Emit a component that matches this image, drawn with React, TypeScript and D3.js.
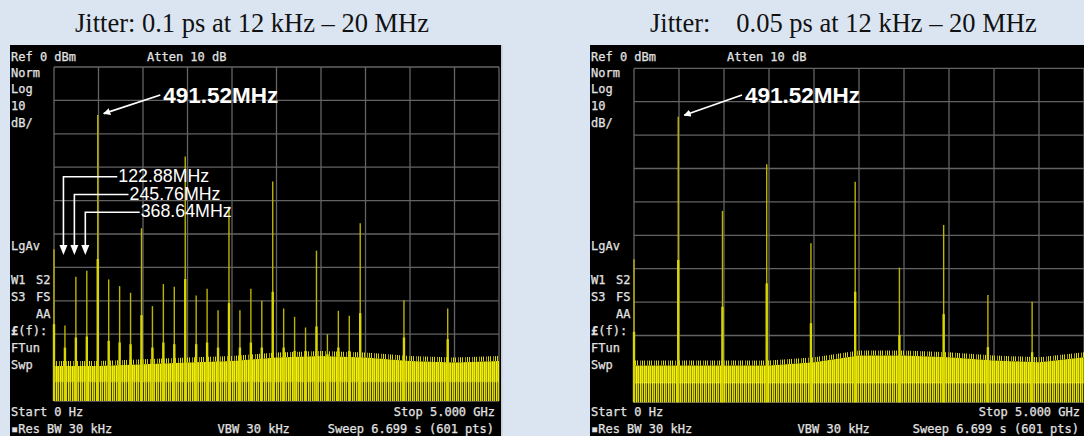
import React from 'react';
import * as d3 from 'd3';

const W = 1084;
const H = 436;

const leftSpurMHz = [0, 122.88, 245.76, 368.64, 491.52, 614.4, 737.28, 860.16, 983.04, 1105.92, 1228.8, 1351.68, 1474.56, 1597.44, 1720.32, 1843.2, 1966.08, 2088.96, 2211.84, 2334.72, 2457.6, 2580.48, 2703.36, 2826.24, 2949.12, 3072, 3194.88, 3317.76, 3440.64, 3932.16, 4423.68];
const leftSpurPeak = [-54.6, -77.4, -62.8, -61.0, -14.4, -63.6, -65.6, -67.6, -48.3, -71.6, -65.0, -65.8, -26.8, -68.4, -66.4, -72.8, -41.8, -72.8, -66.4, -70.0, -34.3, -72.3, -74.8, -78.0, -55.0, -80.0, -73.0, -74.5, -46.8, -69.8, -72.3];
const leftSpurBase = [-77, -84, -81, -80.7, -57.5, -82, -82.5, -83, -74.3, -84, -82.5, -83, -63.5, -83, -82.5, -84, -70.7, -84, -82.5, -84, -67.3, -84, -85, -85, -77.7, -86, -84, -85, -73.7, -81, -81.5];

const rightSpurMHz = [0, 491.52, 983.04, 1474.56, 1966.08, 2457.6, 2949.12, 3440.64, 3932.16, 4423.68];
const rightSpurPeak = [-57.2, -14.5, -42.7, -28.7, -52.4, -34.0, -59.7, -46.9, -67.9, -69.9];
const rightSpurBase = [-78.9, -57.4, -71.4, -64.4, -76.3, -66.9, -79.9, -73.6, -83.5, -85];

// noise floor top (dBm) every 500 MHz
const noiseMHz = [0, 500, 1000, 1500, 2000, 2500, 3000, 3500, 4000, 4500, 5000];
const leftNoise = [-89.5, -89.5, -89, -88.5, -88, -87, -86.5, -87, -88, -88.5, -88];
const rightNoise = [-89, -89, -89, -89, -88, -86, -86, -86.5, -87.5, -88, -86.5];

const harmonicLabels = ['122.88MHz', '245.76MHz', '368.64MHz'];

const mono = "'DejaVu Sans Mono', monospace";
const sans = "'Liberation Sans', Arial, sans-serif";
const serif = "'Liberation Serif', 'Times New Roman', serif";
const txt = '#e2e2e2';

type PanelProps = {
  id: string;
  ox: number;
  ow: number;
  gridW: number;
  top: number;
  spurMHz: number[];
  spurPeak: number[];
  spurBase: number[];
  noise: number[];
  markerX: number;
  showHarmonics?: boolean;
};

const Panel = ({ id, ox, ow, gridW, top, spurMHz, spurPeak, spurBase, noise, markerX, showHarmonics }: PanelProps) => {
  const gl = ox + 44;
  const gr = gl + gridW;
  const x = d3.scaleLinear().domain([0, 5000]).range([gl, gr]);
  const y = d3.scaleLinear().domain([-100, 0]).range([top + 334, top]);

  const pts = noiseMHz.map((f, i) => ({ f, v: noise[i] }));
  const upper = d3.area<{ f: number; v: number }>().x(d => x(d.f)).y0(y(-94.2)).y1(d => y(d.v));
  const lower = d3.area<{ f: number; v: number }>().x(d => x(d.f)).y0(y(-100)).y1(y(-94.2));
  const fuzz = d3.area<{ f: number; v: number }>().x(d => x(d.f)).y0(d => y(d.v)).y1(d => y(d.v) - 5);

  const peak = spurMHz.indexOf(491.52);
  const px = x(491.52);
  const py = y(spurPeak[peak]);

  return (
    <g>
      <defs>
        <pattern id={`${id}-a`} patternUnits="userSpaceOnUse" width={4} height={10}>
          <rect x={0} width={1} height={10} fill="#f6f400" />
          <rect x={1} width={1} height={10} fill="#c8c400" />
          <rect x={2} width={1} height={10} fill="#eeeb10" />
          <rect x={3} width={1} height={10} fill="#a29e00" />
        </pattern>
        <pattern id={`${id}-b`} patternUnits="userSpaceOnUse" width={4} height={10}>
          <rect x={0} width={1} height={10} fill="#ebe700" />
          <rect x={1} width={1} height={10} fill="#807c00" />
          <rect x={2} width={1} height={10} fill="#dcd800" />
          <rect x={3} width={1} height={10} fill="#3c3a00" />
        </pattern>
        <pattern id={`${id}-c`} patternUnits="userSpaceOnUse" width={7} height={10}>
          <rect x={0} width={1} height={10} fill="#d8d400" />
          <rect x={3} width={1} height={10} fill="#a4a000" />
          <rect x={5} width={1} height={10} fill="#e2de00" />
        </pattern>
        <marker id={`${id}-arrow`} viewBox="0 0 10 10" refX={9} refY={5} markerWidth={4} markerHeight={4} orient="auto">
          <path d="M0,0 L10,5 L0,10 z" fill="#fff" />
        </marker>
      </defs>
      <rect x={ox} y={45} width={ow} height={H - 45} fill="#000" />

      {/* graticule */}
      {d3.range(0, 5001, 500).map(f => (
        <line key={`v${f}`} x1={x(f)} x2={x(f)} y1={y(0)} y2={y(-100)} stroke="#636363" strokeWidth={1.3} />
      ))}
      {d3.range(-100, 1, 10).map(v => (
        <line key={`h${v}`} x1={gl} x2={gr} y1={y(v)} y2={y(v)} stroke="#636363" strokeWidth={1.3} />
      ))}

      {/* trace: noise floor and spurs */}
      <path d={fuzz(pts) ?? ''} fill={`url(#${id}-c)`} />
      <path d={upper(pts) ?? ''} fill={`url(#${id}-a)`} />
      <path d={lower(pts) ?? ''} fill={`url(#${id}-b)`} />
      <line x1={gl} x2={gr} y1={y(-94.2)} y2={y(-94.2)} stroke="#f8f640" strokeOpacity={0.45} strokeWidth={1.2} />
      {spurMHz.map((f, i) => (
        <g key={f}>
          <line x1={x(f)} x2={x(f)} y1={y(-100)} y2={y(spurPeak[i])} stroke="#bbb400" strokeWidth={1.4} />
          <line x1={x(f)} x2={x(f)} y1={y(-100)} y2={y(spurBase[i])} stroke="#dad600" strokeWidth={2.4} />
        </g>
      ))}

      {/* instrument annotations */}
      <g fontFamily={mono} fontSize={12} fill={txt} stroke={txt} strokeWidth={0.25}>
        <text x={ox + 1} y={61}>Ref 0 dBm</text>
        <text x={ox + 137} y={61}>Atten 10 dB</text>
        <text x={ox + 1} y={76.5}>Norm</text>
        <text x={ox + 1} y={93}>Log</text>
        <text x={ox + 1} y={110}>10</text>
        <text x={ox + 1} y={127}>dB/</text>
        <text x={ox + 1} y={249.5}>LgAv</text>
        <text x={ox + 1} y={284}>W1</text>
        <text x={ox + 26} y={284}>S2</text>
        <text x={ox + 1} y={301}>S3</text>
        <text x={ox + 26} y={301}>FS</text>
        <text x={ox + 26} y={318}>AA</text>
        <text x={ox + 1} y={335}><tspan fontWeight="bold">£</tspan>(f):</text>
        <text x={ox + 1} y={352}>FTun</text>
        <text x={ox + 1} y={369}>Swp</text>
        <text x={ox + 1} y={416}>Start 0 Hz</text>
        <text x={ox + 1} y={433}>▪Res BW 30 kHz</text>
        <text x={ox + 207.6} y={433}>VBW 30 kHz</text>
        <text x={gr - 4} y={416} textAnchor="end">Stop 5.000 GHz</text>
        <text x={gr - 5} y={433} textAnchor="end">Sweep 6.699 s (601 pts)</text>
      </g>

      {/* carrier marker */}
      <line x1={markerX - 3} y1={95} x2={px + 6} y2={py - 1.5} stroke="#fff" strokeWidth={1.8} markerEnd={`url(#${id}-arrow)`} />
      <text x={markerX} y={102.7} fontFamily={sans} fontWeight="bold" fontSize={22.5} fill="#fff">491.52MHz</text>

      {showHarmonics && harmonicLabels.map((lab, i) => {
        const hx = x(spurMHz[i + 1]) - 1.5;
        const ly = 176.7 + i * 17.8;
        const tx = 118.3 + i * 11.2;
        return (
          <g key={lab}>
            <path d={`M${tx - 1},${ly} H${hx} V${247}`} fill="none" stroke="#fff" strokeWidth={1.6} />
            <path d={`M${hx - 4},${245} L${hx + 4},${245} L${hx},${255} z`} fill="#fff" />
            <text x={tx} y={ly + 5} fontFamily={sans} fontSize={17.8} fill="#fff">{lab}</text>
          </g>
        );
      })}
    </g>
  );
};

const App = () => (
  <svg width={W} height={H} style={{ position: 'absolute', left: 0, top: 0, display: 'block' }}>
    <rect width={W} height={H} fill="#dbe5f1" />
    <text x={252} y={32} textAnchor="middle" fontFamily={serif} fontSize={26.5} fill="#111">
      Jitter: 0.1 ps at 12 kHz – 20 MHz
    </text>
    <text x={650} y={32} fontFamily={serif} fontSize={26.5} fill="#111">
      Jitter:<tspan dx={26}>0.05 ps at 12 kHz – 20 MHz</tspan>
    </text>
    <Panel id="l" ox={10} ow={491} gridW={445} top={67} spurMHz={leftSpurMHz} spurPeak={leftSpurPeak}
      spurBase={leftSpurBase} noise={leftNoise} markerX={163.3} showHarmonics />
    <Panel id="r" ox={590} ow={W - 590} gridW={450} top={68.3} spurMHz={rightSpurMHz} spurPeak={rightSpurPeak}
      spurBase={rightSpurBase} noise={rightNoise} markerX={745} />
    <line x1={501.8} x2={501.8} y1={45} y2={H} stroke="#c8ccd2" strokeWidth={1.5} />
  </svg>
);

export default App;
